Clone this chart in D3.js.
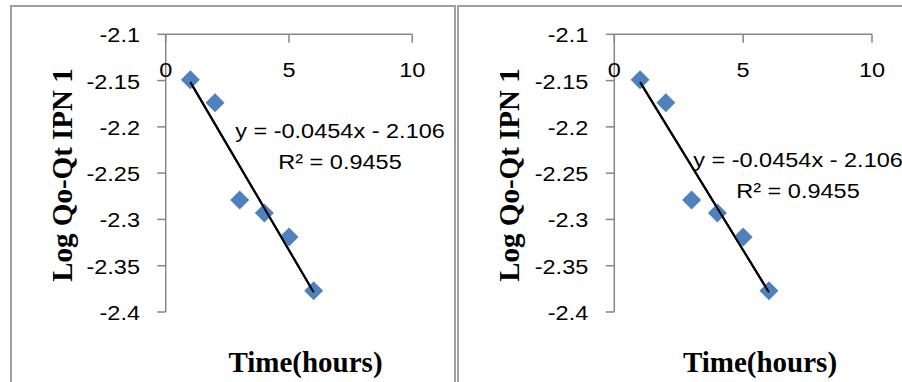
<!DOCTYPE html>
<html>
<head>
<meta charset="utf-8">
<script src="https://cdn.jsdelivr.net/npm/d3@7"></script>
<style>
  html, body { margin: 0; padding: 0; background: #fff; }
  svg { display: block; }
</style>
</head>
<body>
<svg id="chart" width="902" height="382"></svg>
<script>
// ---- data ----
const time = [1, 2, 3, 4, 5, 6];
const logQ = [-2.149, -2.174, -2.279, -2.293, -2.319, -2.377];
const xTicks = [0, 5, 10];
const yTicks = [-2.1, -2.15, -2.2, -2.25, -2.3, -2.35, -2.4];
const yTickLabels = ["-2.1", "-2.15", "-2.2", "-2.25", "-2.3", "-2.35", "-2.4"];
const equationText = "y = -0.0454x - 2.106";
const r2Value = "0.9455";
const xTitle = "Time(hours)";
const yTitle = "Log Qo-Qt IPN 1";

// ---- layout ----
const panels = [
  { x0: 165.7, x1: 412.3, y0: 34.3, y1: 312, eqX: 340, eqY: 138, xtX: 305.5, ytX: 72, lblRight: 140,
    border: { left: 11, right: 455 } },
  { x0: 614.3, x1: 872, y0: 34.3, y1: 312, eqX: 798, eqY: 166.7, xtX: 760, ytX: 519.3, lblRight: 588.3,
    border: { left: 458, right: 920 } }
];

const svg = d3.select("#chart");
const axisColor = "#868686";
const borderColor = "#a0a0a0";
const markerColor = "#4F81BD";
const numFont = "'Liberation Sans', Arial, sans-serif";
const titleFont = "'Liberation Serif', 'Times New Roman', serif";
const stretch = 1.12;

// least-squares trendline from data
const n = time.length;
const mx = d3.mean(time), my = d3.mean(logQ);
const slope = d3.sum(time, (t, i) => (t - mx) * (logQ[i] - my)) / d3.sum(time, t => (t - mx) * (t - mx));
const intercept = my - slope * mx;

panels.forEach(p => {
  const g = svg.append("g");

  // panel border
  g.append("path")
    .attr("d", `M${p.border.left},400 V6 H${p.border.right} V400`)
    .attr("fill", "none").attr("stroke", borderColor).attr("stroke-width", 2);

  const x = d3.scaleLinear().domain([0, 10]).range([p.x0, p.x1]);
  const y = d3.scaleLinear().domain([-2.4, -2.1]).range([p.y1, p.y0]);

  // y axis line + ticks
  g.append("line")
    .attr("x1", x(0)).attr("x2", x(0)).attr("y1", y(-2.1)).attr("y2", y(-2.4))
    .attr("stroke", axisColor).attr("stroke-width", 1.5);
  g.selectAll(".ytick").data(yTicks).join("line")
    .attr("x1", x(0) - 8.5).attr("x2", x(0))
    .attr("y1", d => y(d)).attr("y2", d => y(d))
    .attr("stroke", axisColor).attr("stroke-width", 1.5);
  g.selectAll(".ylbl").data(yTicks).join("text")
    .attr("transform", d => `translate(${p.lblRight},${y(d) + 8}) scale(${stretch},1)`)
    .attr("text-anchor", "end")
    .attr("font-family", numFont).attr("font-size", 21).attr("fill", "#000")
    .text((d, i) => yTickLabels[i]);

  // x axis line (at y = -2.1) + ticks
  g.append("line")
    .attr("x1", x(0)).attr("x2", x(10)).attr("y1", y(-2.1)).attr("y2", y(-2.1))
    .attr("stroke", axisColor).attr("stroke-width", 1.5);
  g.selectAll(".xtick").data(xTicks).join("line")
    .attr("x1", d => x(d)).attr("x2", d => x(d))
    .attr("y1", y(-2.1)).attr("y2", y(-2.1) + 8.5)
    .attr("stroke", axisColor).attr("stroke-width", 1.5);
  g.selectAll(".xlbl").data(xTicks).join("text")
    .attr("transform", d => `translate(${x(d)},76.7) scale(${stretch},1)`)
    .attr("text-anchor", "middle")
    .attr("font-family", numFont).attr("font-size", 21).attr("fill", "#000")
    .text(d => String(d));

  // trendline
  const tMin = d3.min(time), tMax = d3.max(time);
  g.append("line")
    .attr("x1", x(tMin)).attr("y1", y(slope * tMin + intercept))
    .attr("x2", x(tMax)).attr("y2", y(slope * tMax + intercept))
    .attr("stroke", "#000").attr("stroke-width", 2);

  // markers
  const sym = d3.symbol().type(d3.symbolSquare).size(180);
  g.selectAll(".pt").data(time).join("path")
    .attr("d", sym)
    .attr("transform", (d, i) => `translate(${x(d)},${y(logQ[i])}) rotate(45)`)
    .attr("fill", markerColor);

  // redraw trendline over markers (Excel draws trendline on top)
  g.append("line")
    .attr("x1", x(tMin)).attr("y1", y(slope * tMin + intercept))
    .attr("x2", x(tMax)).attr("y2", y(slope * tMax + intercept))
    .attr("stroke", "#000").attr("stroke-width", 2);

  // equation labels
  g.append("text")
    .attr("transform", `translate(${p.eqX},${p.eqY}) scale(${stretch},1)`)
    .attr("text-anchor", "middle")
    .attr("font-family", numFont).attr("font-size", 21).attr("fill", "#000")
    .text(equationText);
  g.append("text")
    .attr("transform", `translate(${p.eqX},${p.eqY + 31.3}) scale(${stretch},1)`)
    .attr("text-anchor", "middle")
    .attr("font-family", numFont).attr("font-size", 21).attr("fill", "#000")
    .text("R² = " + r2Value);

  // axis titles
  g.append("text")
    .attr("x", p.xtX).attr("y", 372)
    .attr("text-anchor", "middle")
    .attr("font-family", titleFont).attr("font-weight", "bold").attr("font-size", 29).attr("fill", "#000")
    .text(xTitle);
  g.append("text")
    .attr("transform", `translate(${p.ytX},175) rotate(-90)`)
    .attr("text-anchor", "middle")
    .attr("font-family", titleFont).attr("font-weight", "bold").attr("font-size", 29).attr("fill", "#000")
    .text(yTitle);
});
</script>
</body>
</html>
